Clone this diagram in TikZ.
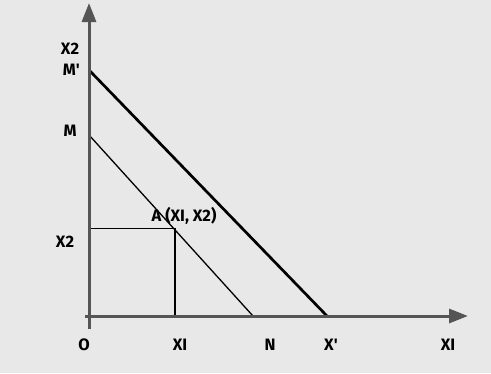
\documentclass[tikz,border=0pt]{standalone}
\usepackage{fontspec}
\setmainfont{Fira Sans}
\usetikzlibrary{arrows.meta,positioning}

\begin{document}
\begin{tikzpicture}[
  x=1pt,y=-1pt,
  font=\fontsize{16.5}{18}\selectfont\bfseries,
  axis/.style={draw=axisgray,line width=3pt,
               -{Triangle[length=19pt,width=14pt]}},
  budget/.style={draw=black,line width=1.3pt},
  newbudget/.style={draw=black,line width=2.7pt},
  guide/.style={draw=black,line width=1.3pt},
  lbl/.style={inner sep=0pt,text=black},
]
\definecolor{axisgray}{HTML}{555555}
\definecolor{bggray}{HTML}{E8E8E8}

% background card, fixes the margins
\fill[bggray] (0,0) rectangle (491,373);
\useasboundingbox (0,0) rectangle (491,373);

% ---- points of the diagram ----
\coordinate (ybot) at (89,329);
\coordinate (ytip) at (89,3);
\coordinate (xbeg) at (85,316);
\coordinate (xtip) at (468,316);
\coordinate (O)  at (89,316);
\coordinate (Mp) at (89,70);
\coordinate (M)  at (89,135);
\coordinate (N)  at (253,316);
\coordinate (Xp) at (327,316);
\coordinate (A)  at (175,228.5);

% ---- budget lines ----
\draw[budget] (M) -- (N);
\draw[newbudget] (Mp) -- (Xp);

% ---- guides to the point A ----
\draw[guide] (O |- A) -- (A) -- (A |- O);

% ---- axes ----
\draw[axis] (ybot) -- (ytip);
\draw[axis] (xbeg) -- (xtip);

% ---- labels ----
\node[lbl] (x2top) at (70,49) {X2};
\node[lbl,left=9pt of Mp] (lMp) {M\textquotesingle};
\node[lbl] (lM) at (70,131) {M};
\node[lbl] (lx2) at (65,242) {X2};
\node[lbl] (lA) at (184,216) {A (XI, X2)};
\node[lbl] (lO) at (84,345) {O};
\node[lbl] (lx1) at (180,345) {XI};
\node[lbl] (lN) at (270,345) {N};
\node[lbl] (lXp) at (331,345) {X\textquotesingle};
\node[lbl] (x1end) at (448,345) {XI};

\end{tikzpicture}
\end{document}
